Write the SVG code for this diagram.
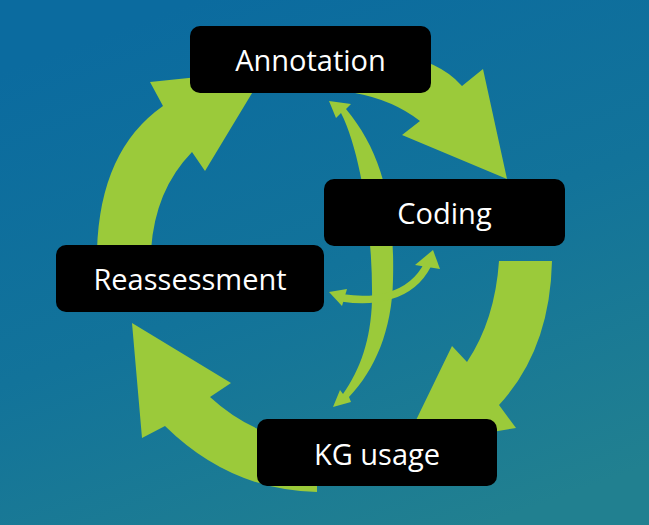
<svg xmlns="http://www.w3.org/2000/svg" width="649" height="525" viewBox="0 0 649 525">
  <defs>
    <linearGradient id="bg" x1="0.3" y1="0" x2="0.75" y2="1">
      <stop offset="0" stop-color="#0b6b9f"/>
      <stop offset="0.5" stop-color="#12739a"/>
      <stop offset="1" stop-color="#218090"/>
    </linearGradient>
  </defs>
  <style>
    .arr { fill: #9bca3a; stroke: none; }
    .shaft { fill: none; stroke: #9bca3a; stroke-width: 7.5; }
    .box { fill: #000000; }
    .lbl { fill: #ffffff; font-family: "Open Sans", "Noto Sans", "DejaVu Sans", sans-serif; font-size: 29px; text-anchor: middle; }
  </style>
  <rect x="0" y="0" width="649" height="525" fill="url(#bg)"/>

  <g id="connectors">
    <!-- Annotation -> Coding -->
    <path class="arr" d="M 380,50 Q 432,58 455,79 L 462,86 L 483,69 L 507,179 L 402,135 L 420,121 Q 393,100 355,93 Z"/>
    <!-- Coding -> KG usage -->
    <path class="arr" d="M 499,261 L 552,261 Q 550,350 499,405 L 516,428 L 403,447 L 452,346 L 467,362 Q 495,320 499,261 Z"/>
    <!-- KG usage -> Reassessment -->
    <path class="arr" d="M 132,323 L 231,383 L 210,397 Q 235,420 265,432 L 317,440 L 317,492 Q 230,490 165,426 L 142,438 Z"/>
    <!-- Reassessment -> Annotation -->
    <path class="arr" d="M 97,250 Q 100,150 163,106 L 150,82 L 266,70 L 205,171 L 192,152 Q 155,190 151,250 Z"/>
    <!-- vertical double arrow Annotation <-> KG usage -->
    <path class="arr" d="M 329,101 L 351,104 L 346,109 C 380,150 395,200 393,280 C 392,330 375,370 349,397 L 351,402 L 333,407 L 340,390 L 343,394 C 360,370 371,340 372,300 C 373,230 360,150 341,113 L 336,118 Z"/>
    <!-- horizontal double arrow Reassessment <-> Coding -->
    <path class="shaft" d="M 343,298 C 370,302 410,300 428,264"/>
    <polygon class="arr" points="329,292 347,289 342,306"/>
    <polygon class="arr" points="433,250 415,265 440,269"/>
  </g>

  <g id="annotation">
    <rect class="box" x="190" y="26" width="241" height="67" rx="10"/>
    <text class="lbl" x="310.5" y="71">Annotation</text>
  </g>
  <g id="coding">
    <rect class="box" x="324" y="179" width="241" height="67" rx="10"/>
    <text class="lbl" x="444.5" y="224">Coding</text>
  </g>
  <g id="reassessment">
    <rect class="box" x="56" y="245" width="268" height="67" rx="10"/>
    <text class="lbl" x="190" y="290">Reassessment</text>
  </g>
  <g id="kg-usage">
    <rect class="box" x="257" y="419" width="240" height="67" rx="10"/>
    <text class="lbl" x="377" y="465">KG usage</text>
  </g>
</svg>
